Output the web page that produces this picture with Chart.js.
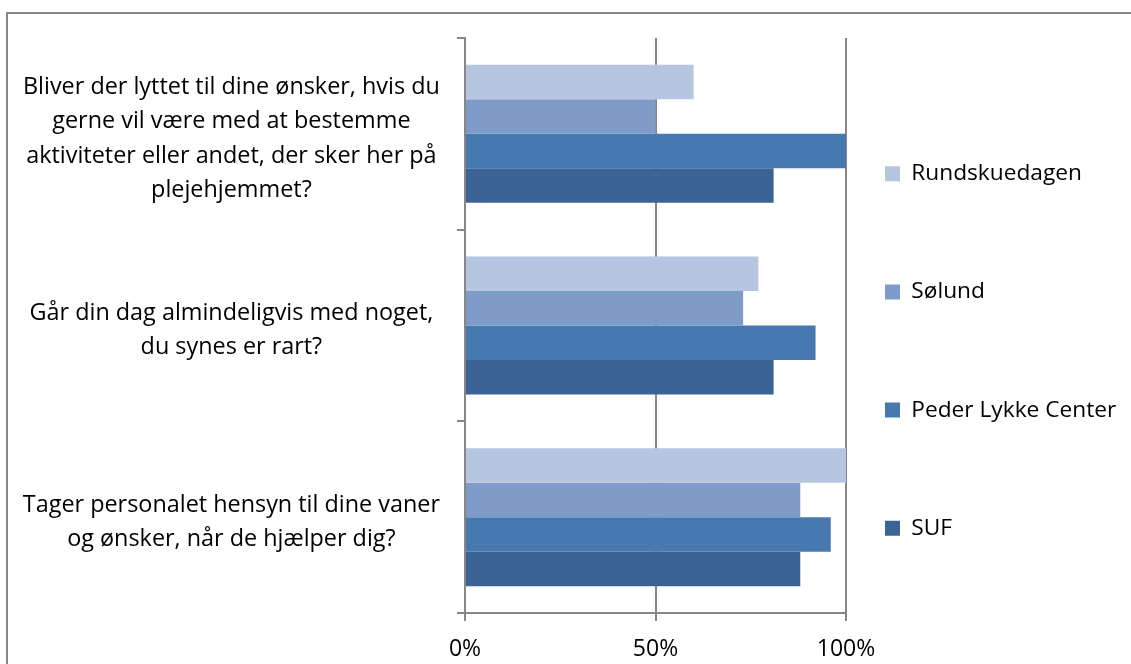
<!DOCTYPE html>
<html>
<head>
<meta charset="utf-8">
<script src="https://cdn.jsdelivr.net/npm/chart.js@4/dist/chart.umd.min.js"></script>
<style>
  html, body { margin: 0; padding: 0; background: #fff; overflow: hidden; }
  #frame {
    position: absolute; left: 6px; top: 12px;
    width: 1200px; height: 700px;
    border: 2px solid #878787;
  }
  #chart { position: absolute; left: 0; top: 0; }
</style>
</head>
<body>
<div id="frame"></div>
<canvas id="chart" width="1131" height="664"></canvas>
<script>
// spørgsmål (kategorier)
const questions = [
    ['Bliver der lyttet til dine ønsker, hvis du', 'gerne vil være med at bestemme', 'aktiviteter eller andet, der sker her på', 'plejehjemmet?'],
    ['Går din dag almindeligvis med noget,', 'du synes er rart?'],
    ['Tager personalet hensyn til dine vaner', 'og ønsker, når de hjælper dig?']
];

const seriesNames = ['Rundskuedagen', 'Sølund', 'Peder Lykke Center', 'SUF'];
const rundskuedagen = [60, 77, 100];
const solund = [50, 73, 88];
const pederLykke = [100, 92, 96];
const suf = [81, 81, 88];

const xTicks = [0, 50, 100];

const colors = ['#b7c6e0', '#7e9cc7', '#4778af', '#3c6396'];
const axisColor = '#878787';
const font = '"Open Sans", Lato, sans-serif';
const legendPad = 95.5;

// flytter legenden til venstre (kun venstre kant), så plotområdet kan gå helt ud til 100%
const legendShift = {
    id: 'legendShift',
    afterLayout(chart) {
        chart.legend.left = 885 - legendPad;
    }
};

const ctx = document.getElementById('chart').getContext('2d');

new Chart(ctx, {
    type: 'bar',
    data: {
        labels: questions,
        datasets: [rundskuedagen, solund, pederLykke, suf].map((values, i) => ({
            label: seriesNames[i],
            data: values,
            backgroundColor: colors[i],
            borderWidth: 0,
            categoryPercentage: 0.72,
            barPercentage: 1.0
        }))
    },
    options: {
        indexAxis: 'y',
        responsive: false,
        animation: false,
        layout: {
            padding: { top: 38, bottom: 0, left: 0, right: 3 }
        },
        plugins: {
            legend: {
                position: 'right',
                labels: {
                    color: '#000',
                    font: { family: font, size: 22.7 },
                    boxWidth: 15,
                    boxHeight: 15,
                    padding: legendPad
                }
            },
            tooltip: { enabled: false }
        },
        scales: {
            x: {
                min: 0,
                max: 100,
                afterFit(scale) {
                    scale.height = 51;
                    scale.paddingLeft = 0;
                    scale.paddingRight = 0;
                },
                afterBuildTicks(scale) {
                    scale.ticks = xTicks.map(v => ({ value: v }));
                },
                ticks: {
                    color: '#000',
                    font: { family: font, size: 23 },
                    padding: 15,
                    callback: v => v + '%'
                },
                grid: {
                    color: axisColor,
                    lineWidth: 2,
                    tickLength: 8
                },
                border: { color: axisColor, width: 2 }
            },
            y: {
                afterFit(scale) {
                    scale.width = 465;
                    scale.paddingTop = 0;
                    scale.paddingBottom = 0;
                },
                ticks: {
                    color: '#000',
                    font: { family: font, size: 23.4, lineHeight: 1.46 },
                    crossAlign: 'center',
                    padding: 17,
                    labelOffset: 5,
                    autoSkip: false
                },
                grid: {
                    drawOnChartArea: false,
                    color: axisColor,
                    lineWidth: 2,
                    tickLength: 8
                },
                border: { color: axisColor, width: 2 }
            }
        }
    },
    plugins: [legendShift]
});
</script>
</body>
</html>
